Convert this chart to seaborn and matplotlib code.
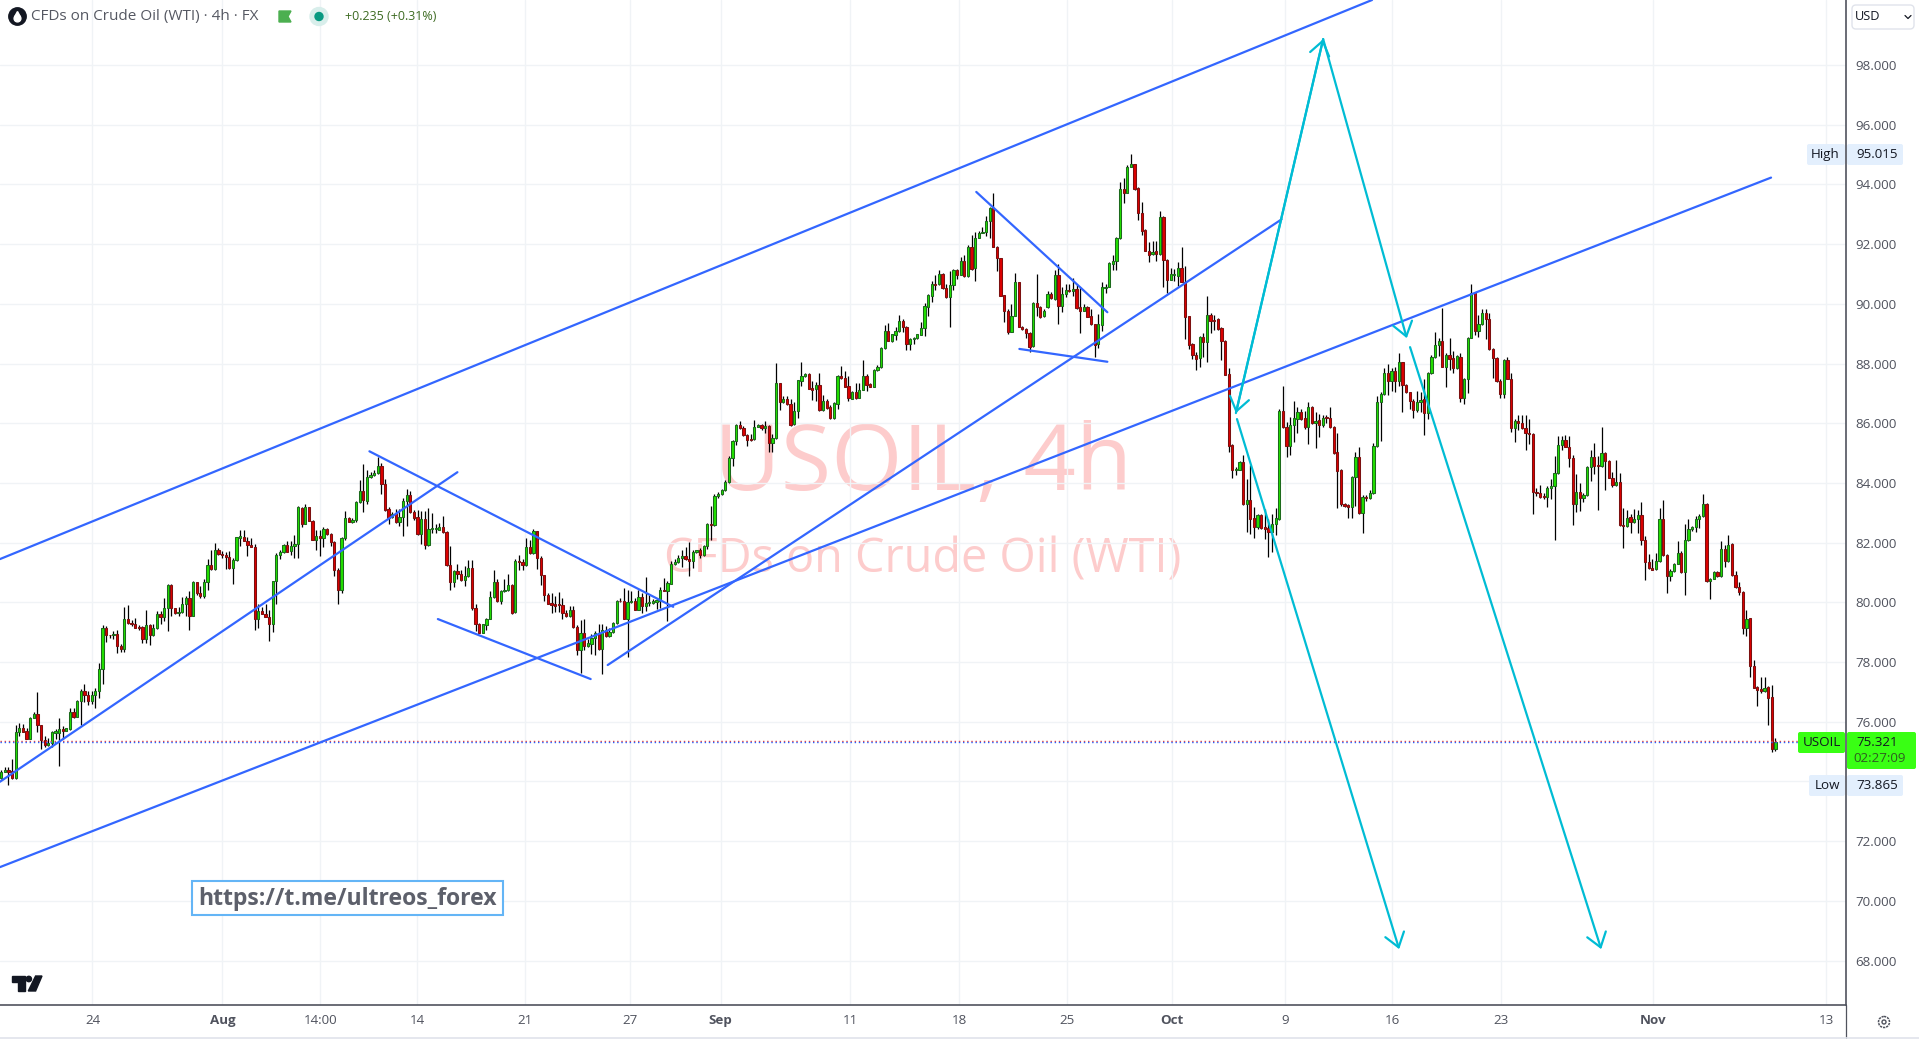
import numpy as np
import pandas as pd
import seaborn as sns
import matplotlib.pyplot as plt
from matplotlib.patches import Rectangle, Circle, Polygon, FancyBboxPatch

opens = [
74.11,74.32,74.39,74.36,74.10,75.64,75.79,75.68,75.41,76.14,
76.27,75.90,75.39,75.22,75.28,75.62,75.63,75.75,75.69,75.75,
76.31,76.16,76.71,77.04,76.90,76.69,76.90,77.04,77.78,79.15,
78.92,78.90,78.95,78.54,78.43,79.45,79.32,79.27,79.15,79.16,
78.77,79.25,78.90,79.14,79.62,79.51,79.82,80.57,79.82,79.65,
79.69,79.94,80.15,79.54,80.69,80.32,80.21,80.68,81.26,81.11,
81.76,81.63,81.59,81.52,81.15,81.42,82.16,82.20,82.06,81.93,
81.87,79.44,79.72,79.62,79.52,79.27,80.71,81.59,81.69,81.93,
81.71,81.89,81.96,83.16,82.62,83.20,82.72,82.10,82.23,82.15,
82.47,82.28,82.03,81.09,80.40,82.15,82.83,82.70,82.75,83.35,
83.73,83.41,84.19,84.26,84.33,84.58,83.97,83.13,82.86,83.00,
82.68,82.85,83.40,83.60,83.04,82.86,82.28,82.80,81.91,82.45,
82.45,82.44,82.53,82.36,81.26,80.68,81.06,80.96,80.74,80.88,
81.16,
79.82,79.29,78.98,79.24,79.45,80.18,80.69,80.04,80.38,80.41,
80.57,79.67,81.40,81.36,81.25,81.86,81.65,82.38,81.49,80.92,
80.26,79.99,79.93,79.91,79.90,79.65,79.54,79.76,79.18,78.40,
78.98,78.54,78.59,78.82,78.98,78.45,79.07,78.87,79.00,79.32,
80.06,80.05,79.45,80.01,80.05,79.76,80.19,79.87,79.97,79.99,
80.01,80.04,80.43,80.39,80.63,81.28,81.35,81.48,81.55,81.44,
81.39,81.69,81.74,81.60,81.88,82.63,82.59,83.55,83.63,83.75,
84.02,84.84,85.42,85.94,85.84,85.61,85.46,85.46,85.88,85.94,
85.84,85.92,85.33,85.49,87.35,86.70,86.81,86.64,85.96,86.40,
87.43,87.57,87.66,87.18,87.14,87.29,86.46,86.75,86.55,86.16,
86.66,87.58,87.51,87.26,86.82,87.04,86.85,87.12,87.59,87.31,
87.22,87.78,87.87,88.52,89.10,88.74,88.97,89.09,89.42,89.22,
88.67,88.82,88.84,88.97,89.18,89.91,90.28,90.67,90.66,91.00,
90.53,90.22,90.62,91.14,90.98,91.43,90.92,91.90,91.19,92.22,
92.39,92.41,92.78,93.20,91.92,91.52,90.29,89.77,89.07,89.60,
90.72,89.24,89.15,89.01,88.58,90.03,89.88,89.58,89.88,90.33,
90.16,90.96,89.94,90.32,90.46,90.43,90.50,89.88,89.77,89.88,
89.58,89.31,88.64,89.30,90.54,90.57,91.35,91.42,92.19,93.84,
93.73,94.59,94.68,93.87,93.06,92.47,91.78,91.66,91.76,91.67,
92.91,91.48,90.81,90.96,90.94,91.19,90.74,89.58,88.64,88.30,
88.17,88.88,88.73,89.63,89.47,89.48,89.18,88.75,87.64,85.27,
84.45,84.45,84.69,83.28,83.42,82.82,82.54,82.94,82.52,82.48,
82.37,82.63,82.80,86.40,85.86,85.25,85.95,86.14,86.37,86.17,
85.89,86.53,86.00,86.11,85.95,86.20,86.17,85.86,85.03,84.44,
83.29,83.26,83.19,84.19,84.86,82.98,83.54,83.49,83.65,85.23,
86.70,86.98,87.67,87.40,87.74,87.40,88.04,87.28,87.04,86.76,
86.46,
86.71,86.80,86.35,87.67,88.23,88.63,88.77,87.89,88.30,88.17,
87.85,88.23,86.84,87.48,88.86,90.35,89.08,89.32,89.68,89.50,
88.49,88.19,87.43,86.99,88.13,87.49,85.84,86.08,86.02,85.85,
85.68,85.65,83.71,83.67,83.54,83.52,83.83,83.90,84.33,85.27,
85.45,85.21,84.84,83.29,83.71,83.49,83.58,84.54,84.88,84.60,
84.57,85.02,84.73,84.17,83.92,84.04,82.60,82.56,82.85,82.69,
82.79,82.91,82.10,81.36,81.16,81.11,81.38,82.80,81.60,80.88,
81.05,81.30,81.66,81.02,82.08,82.47,82.52,82.79,82.89,83.30,
80.71,80.77,81.02,80.88,81.80,81.38,81.94,80.93,80.53,80.36,
79.14,79.46,77.88,77.15,77.09,77.03,77.15,76.82,75.10,
]
highs = [
74.39,74.50,74.47,74.75,75.88,75.97,75.92,75.80,76.17,76.31,
76.98,75.90,75.53,75.47,75.69,75.75,76.14,75.86,75.80,76.47,
76.47,76.73,77.09,77.28,77.03,77.03,77.14,77.96,79.25,79.21,
78.92,79.04,79.07,78.59,79.83,79.90,79.40,79.48,79.23,79.21,
79.75,79.26,79.26,79.71,79.71,80.15,80.60,80.60,79.82,79.84,
80.19,80.21,80.38,80.71,80.69,80.54,80.77,81.44,81.75,81.99,
81.83,81.71,81.68,81.71,81.49,82.20,82.44,82.44,82.19,82.16,
81.94,79.93,79.85,79.96,79.76,80.71,81.66,81.77,81.94,82.05,
82.05,82.24,83.24,83.19,83.28,83.20,82.77,82.44,82.44,82.52,
82.49,82.31,82.05,81.16,82.19,83.06,82.86,82.83,83.39,84.11,
84.65,84.45,84.36,84.42,84.87,84.67,84.13,83.20,83.02,83.13,
83.13,83.50,83.80,83.73,83.09,83.11,83.07,83.05,83.16,83.00,
82.61,82.66,82.88,82.38,81.89,81.10,81.27,81.10,81.21,81.41,
81.41,
79.95,79.32,79.26,79.48,80.38,81.07,80.79,80.41,80.79,80.96,
80.60,81.44,81.60,81.44,82.16,82.10,82.47,82.38,81.55,80.93,
80.32,80.32,80.21,80.35,80.15,79.74,79.87,79.87,79.23,79.40,
79.45,78.76,78.93,79.04,79.26,79.26,79.21,79.15,79.34,80.08,
80.15,80.47,80.40,80.38,80.15,80.43,80.32,80.86,80.26,80.12,
80.15,80.52,80.82,80.70,81.40,81.44,81.60,81.74,81.86,82.03,
81.74,81.77,81.83,81.93,82.66,83.24,83.64,83.70,83.81,84.11,
84.89,85.45,85.96,86.09,85.90,85.64,85.64,86.12,85.98,85.97,
86.06,85.95,85.64,88.01,87.35,86.90,86.90,86.81,86.70,87.46,
88.05,87.70,87.70,87.40,87.37,87.68,86.95,86.81,86.62,86.70,
87.62,87.92,87.74,87.59,87.07,87.35,87.35,88.13,87.65,87.35,
87.81,87.96,88.57,89.30,89.36,88.99,89.22,89.64,89.50,89.25,
88.85,88.89,88.99,89.40,90.03,90.34,90.77,90.97,91.14,91.03,
90.66,91.11,91.16,91.16,91.56,91.64,91.97,92.31,92.42,92.45,
92.56,92.93,93.23,93.73,91.95,91.52,90.29,89.83,89.99,91.05,
90.72,89.27,89.18,89.07,90.05,91.00,89.94,89.83,90.44,90.41,
91.14,91.33,90.55,90.66,90.66,90.85,90.66,90.55,89.99,89.94,
89.83,89.32,89.66,90.72,90.66,91.39,91.63,92.23,94.07,94.20,
94.66,95.02,94.68,93.90,93.40,92.50,92.06,92.11,92.11,93.12,
92.93,91.50,91.19,91.17,91.41,91.89,91.28,89.60,88.69,88.38,
88.91,89.02,90.27,89.71,89.63,89.51,89.21,88.78,87.84,85.30,
84.53,84.75,84.94,84.13,84.60,83.19,82.96,82.96,83.13,82.80,
82.96,83.15,86.48,87.24,86.05,86.20,86.76,86.53,86.48,86.42,
86.72,86.59,86.37,86.31,86.28,86.28,86.53,85.90,85.67,84.47,
83.33,83.30,84.23,85.05,85.19,83.60,83.60,83.78,85.34,86.92,
87.04,87.84,87.97,87.84,87.87,88.35,88.06,87.32,87.06,86.81,
87.09,
87.04,87.47,87.71,88.27,89.06,88.86,89.87,88.36,88.86,88.42,
88.30,88.36,87.52,88.88,90.68,90.37,89.61,89.83,89.83,89.70,
88.52,88.23,87.47,88.15,88.23,87.67,86.13,86.26,86.26,86.26,
86.13,85.68,83.84,83.92,83.67,83.90,84.12,84.90,85.57,85.57,
85.60,85.57,84.93,84.29,84.01,83.65,84.57,85.12,85.35,84.90,
85.88,85.05,84.77,84.36,84.77,84.34,83.17,83.09,82.95,83.14,
83.11,83.37,82.22,81.61,81.44,81.64,83.17,83.42,81.61,81.11,
81.33,82.05,81.72,82.61,82.78,82.56,82.89,82.95,83.62,83.32,
80.83,81.05,81.05,82.05,81.91,82.24,82.00,81.05,80.68,80.38,
79.74,79.49,78.06,77.20,77.51,77.51,77.20,77.22,75.47,
]
lows = [
74.08,74.30,73.87,74.08,74.08,75.53,75.64,75.41,75.41,76.13,
75.66,75.10,75.14,75.19,75.17,75.41,74.52,75.41,75.68,75.73,
76.13,76.15,75.88,76.66,76.55,76.59,76.46,76.80,77.25,78.67,
78.79,78.78,78.31,78.34,78.34,79.29,79.21,79.13,79.09,78.65,
78.65,78.57,78.87,79.12,79.26,79.37,79.04,79.54,79.62,79.54,
79.65,79.54,79.07,79.53,80.26,80.15,80.13,80.43,81.09,81.08,
81.59,81.49,81.13,81.13,80.60,81.40,81.88,82.04,81.55,81.84,
79.07,79.13,79.60,79.51,78.70,79.00,79.94,81.44,81.66,81.68,
81.60,81.49,81.49,82.52,82.61,82.71,82.08,81.77,81.55,81.86,
82.26,81.88,80.88,79.93,80.32,82.10,82.68,82.66,82.68,83.33,
83.02,83.31,84.17,84.22,84.31,83.64,83.07,82.61,82.84,82.66,
82.55,82.22,82.55,83.00,82.77,82.26,81.94,81.79,81.89,82.31,
82.33,82.41,82.33,81.21,80.41,80.51,80.77,80.71,80.54,80.86,
79.76,
79.04,78.96,78.96,79.09,79.43,80.15,80.02,79.93,80.35,80.38,
79.62,79.65,81.08,81.08,81.23,81.63,81.63,81.13,80.58,80.06,
79.93,79.63,79.67,79.67,79.45,79.52,79.52,79.15,78.22,77.64,
78.42,78.51,78.26,78.24,78.42,77.59,78.85,78.85,78.98,79.29,
80.02,79.43,78.17,79.99,79.74,79.74,79.65,79.71,79.87,79.96,
79.79,79.82,80.37,79.37,80.61,81.26,81.32,81.18,81.41,80.88,
81.16,81.66,81.49,81.55,81.79,82.10,82.57,83.50,83.61,83.74,
84.00,84.58,85.28,85.82,85.56,85.25,85.39,85.45,85.86,85.76,
85.67,85.04,85.03,85.48,86.43,86.68,86.61,85.92,85.94,86.17,
87.26,87.55,87.14,86.79,86.75,86.40,86.41,86.49,86.14,86.15,
86.49,87.49,87.21,86.75,86.81,86.82,86.83,87.10,87.09,87.21,
87.20,87.76,87.85,88.48,88.74,88.73,88.80,89.05,89.05,88.46,
88.46,88.67,88.82,88.96,88.93,89.60,90.05,90.45,90.64,90.50,
90.19,89.21,90.45,90.84,90.96,90.89,90.89,91.14,90.75,92.20,
92.37,92.26,92.19,91.89,91.11,90.25,89.38,88.99,89.05,89.58,
89.21,89.13,88.86,88.40,88.55,89.60,89.52,89.56,89.86,90.16,
90.14,89.32,89.74,90.24,90.41,90.27,89.83,89.02,89.75,89.55,
89.29,88.23,88.51,89.10,90.38,90.55,91.14,91.13,92.17,93.38,
93.71,94.57,93.82,92.81,92.30,91.76,91.41,91.63,91.44,91.65,
90.57,90.38,90.79,90.77,90.61,90.72,88.82,88.49,88.15,87.80,
87.90,88.21,88.06,89.04,89.13,89.13,88.13,87.61,85.05,84.18,
84.25,84.42,83.25,82.35,82.30,82.16,82.46,82.46,82.13,81.53,
81.68,82.24,82.77,85.84,84.88,84.94,85.38,85.67,86.12,85.81,
85.31,85.98,85.16,85.55,85.86,86.01,85.83,84.97,83.15,83.24,
83.19,82.82,82.83,83.24,82.96,82.33,83.38,83.46,83.63,85.20,
85.42,86.96,86.96,87.09,87.04,87.26,86.37,87.01,86.48,86.17,
86.37,
86.37,85.60,86.13,87.65,88.20,88.25,87.87,87.21,87.80,87.69,
87.82,86.72,86.64,87.02,88.84,88.94,88.88,89.30,88.83,88.47,
87.52,87.39,86.85,86.84,87.47,85.71,85.37,85.79,85.82,85.10,
85.32,82.95,83.56,83.49,83.45,83.19,83.45,82.09,84.31,85.09,
85.19,84.53,82.58,83.02,83.06,83.36,83.56,84.06,84.29,83.09,
84.54,83.76,84.15,83.87,83.90,82.57,81.83,82.53,82.31,82.67,
82.33,81.91,80.75,81.12,81.07,81.08,81.36,81.56,80.31,80.71,
81.03,81.27,80.99,80.25,82.05,82.39,82.37,82.50,82.87,80.69,
80.11,80.77,80.86,80.86,81.20,81.36,80.89,80.47,80.25,78.93,
78.87,77.50,77.12,76.53,76.95,77.01,75.88,74.97,75.02,
]
closes = [
74.33,74.39,74.32,74.10,75.64,75.79,75.66,75.41,76.14,76.27,
75.90,75.39,75.22,75.30,75.64,75.69,75.74,75.69,75.78,76.31,
76.15,76.71,77.04,76.90,76.69,76.91,77.04,77.78,79.15,78.90,
78.89,78.95,78.54,78.43,79.45,79.31,79.27,79.14,79.13,78.77,
79.25,78.90,79.15,79.62,79.51,79.82,80.57,79.82,79.64,79.69,
79.95,80.15,79.54,80.69,80.32,80.21,80.69,81.26,81.11,81.76,
81.61,81.58,81.51,81.15,81.42,82.18,82.22,82.06,81.91,81.86,
79.44,79.72,79.62,79.51,79.27,80.71,81.60,81.69,81.93,81.70,
81.89,81.97,83.19,82.63,83.20,82.72,82.10,82.23,82.15,82.47,
82.28,82.02,81.09,80.41,82.16,82.83,82.70,82.76,83.36,83.73,
83.42,84.20,84.27,84.35,84.58,83.96,83.11,82.84,82.95,82.68,
82.86,83.41,83.60,83.02,82.84,82.28,82.80,81.93,82.47,82.47,
82.47,82.53,82.35,81.25,80.68,81.06,80.96,80.74,80.89,81.16,
79.80,
79.29,78.98,79.26,79.45,80.19,80.69,80.04,80.39,80.42,80.57,
79.65,81.40,81.35,81.25,81.86,81.65,82.38,81.49,80.92,80.23,
79.96,79.91,79.87,79.90,79.63,79.54,79.76,79.17,78.40,78.98,
78.54,78.63,78.82,78.98,78.45,79.07,78.87,79.00,79.32,80.05,
80.03,79.45,80.02,80.05,79.76,80.19,79.87,79.99,80.00,80.03,
80.08,80.42,80.39,80.66,81.30,81.36,81.50,81.55,81.44,81.39,
81.70,81.75,81.60,81.89,82.64,82.59,83.57,83.64,83.77,84.03,
84.84,85.42,85.94,85.84,85.59,85.43,85.43,85.86,85.94,85.83,
85.90,85.34,85.51,87.35,86.70,86.81,86.63,85.95,86.41,87.45,
87.58,87.66,87.16,87.13,87.29,86.45,86.75,86.51,86.16,86.68,
87.58,87.51,87.23,86.83,87.04,86.85,87.13,87.58,87.29,87.23,
87.79,87.88,88.52,89.10,88.74,88.98,89.09,89.42,89.21,88.67,
88.82,88.85,88.98,89.19,89.94,90.29,90.66,90.64,91.00,90.53,
90.22,90.63,91.12,90.97,91.43,90.92,91.90,91.17,92.20,92.39,
92.41,92.79,93.20,91.91,91.52,90.27,89.77,89.07,89.60,90.72,
89.23,89.16,89.01,88.56,90.03,89.88,89.57,89.77,90.33,90.18,
90.96,89.94,90.33,90.46,90.43,90.50,89.86,89.77,89.88,89.57,
89.31,88.63,89.31,90.55,90.57,91.36,91.42,92.19,93.84,93.71,
94.60,94.68,93.84,93.04,92.45,91.78,91.63,91.75,91.67,92.91,
91.48,90.81,90.99,91.00,91.19,90.74,89.57,88.63,88.29,88.15,
88.88,88.73,89.63,89.44,89.44,89.16,88.74,87.63,85.25,84.45,
84.47,84.69,83.28,83.42,82.80,82.54,82.94,82.49,82.46,82.37,
82.63,82.82,86.40,85.86,85.25,85.95,86.17,86.37,86.14,85.89,
86.53,86.00,86.09,85.95,86.19,86.17,85.86,85.00,84.41,83.28,
83.24,83.19,84.19,84.86,82.98,83.52,83.51,83.65,85.23,86.70,
86.98,87.67,87.40,87.74,87.40,88.04,87.28,87.04,86.76,86.46,
86.70,
86.77,86.35,87.69,88.23,88.63,88.77,87.89,88.30,88.16,87.86,
88.25,86.85,87.49,88.86,90.35,89.08,89.33,89.68,89.49,88.49,
88.18,87.41,86.99,88.13,87.49,85.84,86.09,86.02,85.84,85.67,
85.64,83.69,83.67,83.52,83.52,83.84,83.90,84.34,85.28,85.45,
85.21,84.83,83.29,83.69,83.49,83.61,84.54,84.88,84.57,84.57,
85.02,84.73,84.17,83.93,84.04,82.59,82.56,82.84,82.69,82.80,
82.91,82.09,81.35,81.14,81.09,81.40,82.80,81.59,80.88,81.05,
81.30,81.66,81.02,82.09,82.47,82.53,82.80,82.90,83.30,80.71,
80.79,81.02,80.88,81.80,81.38,81.93,80.92,80.51,80.35,79.15,
79.45,77.87,77.14,77.07,77.03,77.14,76.81,75.10,75.32,
]

price_ticks = [68, 70, 72, 74, 76, 78, 80, 82, 84, 86, 88, 90, 92, 94, 96, 98]
date_labels = ["24", "Aug", "14:00", "14", "21", "27", "Sep", "11", "18", "25", "Oct", "9", "16", "23", "Nov", "13"]
date_bars = [25.2, 61.1, 88.1, 114.9, 144.8, 173.7, 198.7, 234.5, 264.6, 294.4, 323.4, 354.5, 384.2, 414.2, 456.3, 504]
months = ["Aug", "Sep", "Oct", "Nov"]

# trend lines as (start bar, start price, end bar, end price)
trend_lines = [
    (-0.33, 81.45, 378.6, 100.18),
    (-0.33, 71.13, 488.8, 94.23),
    (-0.33, 73.99, 126.0, 84.36),
    (101.7, 85.06, 185.6, 79.85),
    (120.6, 79.44, 162.8, 77.43),
    (167.5, 77.90, 353.6, 92.83),
    (269.3, 93.75, 305.5, 89.72),
    (281.2, 88.49, 305.5, 88.06),
]
# projected moves, same layout
arrows = [
    (341.0, 86.34, 365.1, 98.87),
    (365.1, 98.87, 388.2, 88.85),
    (341.3, 86.14, 386.1, 68.38),
    (389.1, 88.55, 441.9, 68.38),
]

last_price = 75.32
bid_price = 75.36

sns.set_theme(style="white")
plt.rcParams['font.family'] = ['Open Sans', 'DejaVu Sans']

W, H = 1919, 1039
AX_R, AX_B = 1846, 1005
fig = plt.figure(figsize=(W / 100, H / 100), dpi=100, facecolor="white")
ax = fig.add_axes([0, (H - AX_B) / H, AX_R / W, AX_B / H])

df = pd.DataFrame({"open": opens, "high": highs, "low": lows, "close": closes})
df["bar"] = df.index
df["up"] = df["close"] >= df["open"]
df["top"] = df[["open", "close"]].max(axis=1)
df["bottom"] = df[["open", "close"]].min(axis=1)
df["height"] = (df["top"] - df["bottom"]).clip(lower=0.03)

ax.grid(True, color="#f0f3f6", lw=1)
ax.set_axisbelow(True)

ax.text(0.5, 0.5124, "USOIL, 4h", transform=ax.transAxes, ha="center", va="baseline",
        fontsize=66, color="#fdcccc", zorder=0.5)
ax.text(0.5, 0.4299, "CFDs on Crude Oil (WTI)", transform=ax.transAxes, ha="center", va="baseline",
        fontsize=33.7, color="#fdcccc", zorder=0.5)

ax.vlines(df["bar"], df["low"], df["high"], color="black", lw=0.9, zorder=2)
for up, fill, edge in [(True, "#22e000", "#1c6a1c"), (False, "#dc0000", "#7c1010")]:
    part = df[df["up"] == up]
    ax.bar(part["bar"], part["height"], bottom=part["bottom"], width=0.62,
           color=fill, edgecolor=edge, linewidth=0.75, zorder=3)

ax.axhline(bid_price, color="#f44336", lw=1, ls=(0, (1, 2)), zorder=3.5)
ax.axhline(last_price, color="#2962ff", lw=1, ls=(0, (1, 2)), zorder=3.5)

rows = []
for n, (x0, y0, x1, y1) in enumerate(trend_lines):
    rows.append({"line": n, "bar": x0, "price": y0})
    rows.append({"line": n, "bar": x1, "price": y1})
lines_df = pd.DataFrame(rows)
sns.lineplot(data=lines_df, x="bar", y="price", units="line", estimator=None, sort=False,
             color="#3366ff", lw=1.6, ax=ax, zorder=4, legend=False)

head = "->,head_length=0.7,head_width=0.5"
for x0, y0, x1, y1 in arrows:
    ax.annotate("", xy=(x1, y1), xytext=(x0, y0),
                arrowprops=dict(arrowstyle=head, mutation_scale=14,
                                color="#00bcd4", lw=1.6, shrinkA=0, shrinkB=0), zorder=5)
# the first move also carries a head at its lower end
ax.annotate("", xy=(arrows[0][0], arrows[0][1]), xytext=(arrows[0][2], arrows[0][3]),
            arrowprops=dict(arrowstyle=head, mutation_scale=14,
                            color="#00bcd4", lw=1.6, shrinkA=0, shrinkB=0), zorder=5)

ax.set_xlim(-0.33, 509.5)
ax.set_ylim(66.51, 100.18)
ax.set_xticks(date_bars)
ax.set_xticklabels(date_labels)
ax.set_yticks(price_ticks)
ax.set_yticklabels([f"{p:.3f}" for p in price_ticks])
ax.yaxis.tick_right()
ax.tick_params(axis="x", length=0, pad=6.5, labelsize=9.6, labelcolor="#50535e")
ax.tick_params(axis="y", length=0, pad=7, labelsize=9.6, labelcolor="#50535e")
for lab in ax.get_xticklabels():
    if lab.get_text() in months:
        lab.set_fontweight("bold")
ax.set_xlabel("")
ax.set_ylabel("")
for side in ["top", "left"]:
    ax.spines[side].set_visible(False)
for side in ["right", "bottom"]:
    ax.spines[side].set_color("#50535e")
    ax.spines[side].set_linewidth(1.2)

# screen furniture around the plot, in pixel coordinates
ov = fig.add_axes([0, 0, 1, 1], facecolor="none")
ov.set_xlim(0, W)
ov.set_ylim(H, 0)
ov.axis("off")

ov.plot([AX_R, AX_R], [AX_B, 1038], color="#50535e", lw=0.9)
ov.plot([0, W], [1037.5, 1037.5], color="#e0e3eb", lw=1.2)

ov.add_patch(Circle((17.5, 16.5), 8.7, color="#131722"))
ov.add_patch(Circle((17.5, 18.5), 3.4, color="white"))
ov.add_patch(Polygon([(14.5, 17), (20.5, 17), (17.5, 11.5)], color="white"))
ov.text(31, 16.5, "CFDs on Crude Oil (WTI) · 4h · FX", fontsize=11, color="#555862", va="center")
ov.add_patch(Polygon([(279, 11), (291, 11), (288, 16.5), (291, 22), (279, 22)], color="#4caf50"))
ov.add_patch(Circle((319, 16.5), 9, color="#d8eeeb"))
ov.add_patch(Circle((319, 16.5), 4, color="#089981"))
ov.text(345, 16.5, "+0.235 (+0.31%)", fontsize=9, color="#3d6b22", va="center")

ov.add_patch(FancyBboxPatch((1852, 5), 62, 24, boxstyle="round,pad=0,rounding_size=4",
                            fc="white", ec="#e0e3eb", lw=1))
ov.text(1855, 17, "USD", fontsize=9.2, color="#131722", va="center")
ov.plot([1905, 1908, 1911], [15.5, 18.5, 15.5], color="#131722", lw=0.9)

def label(x0, x1, y0, y1, fc, text, tx, color="#131722", size=9.6):
    ov.add_patch(FancyBboxPatch((x0, y0), x1 - x0, y1 - y0, boxstyle="round,pad=0,rounding_size=2",
                                fc=fc, ec="none", zorder=6))
    ov.text(tx, (y0 + y1) / 2, text, fontsize=size, color=color, ha="center", va="center", zorder=7)

label(1807, 1845, 144, 165, "#e3effd", "High", 1825)
label(1847, 1903, 144, 165, "#e3effd", "95.015", 1877)
label(1809, 1845, 775, 796, "#e3effd", "Low", 1827)
label(1847, 1903, 775, 796, "#e3effd", "73.865", 1877)
label(1798, 1845, 732, 753, "#39ff14", "USOIL", 1822)
label(1847, 1916, 732, 769, "#39ff14", "", 1880)
ov.text(1877, 743, "75.321", fontsize=9.6, color="#131722", ha="center", va="center", zorder=7)
ov.text(1880, 759, "02:27:09", fontsize=9.6, color="#2f5d20", ha="center", va="center", zorder=7)

ov.add_patch(Rectangle((192, 881), 311, 34, fc="white", ec="#64b5f6", lw=1.5, zorder=6))
ov.text(347.5, 899, "https://t.me/ultreos_forex", fontsize=16.6, fontweight="bold",
        color="#5d606b", ha="center", va="center", zorder=7)

ov.add_patch(Polygon([(12, 976), (25, 976), (25, 991), (18, 991), (18, 982), (12, 982)], color="#131722"))
ov.add_patch(Circle((28.8, 979), 2.7, color="#131722"))
ov.add_patch(Polygon([(35.6, 976), (42, 976), (35.6, 991), (28.3, 991)], color="#131722"))

ov.add_patch(Circle((1884, 1022), 5.5, fc="none", ec="#50535e", lw=1.1, ls=(0, (1.5, 0.6))))
ov.add_patch(Circle((1884, 1022), 2, fc="none", ec="#50535e", lw=1))

fig.savefig("out.png", dpi=100)
